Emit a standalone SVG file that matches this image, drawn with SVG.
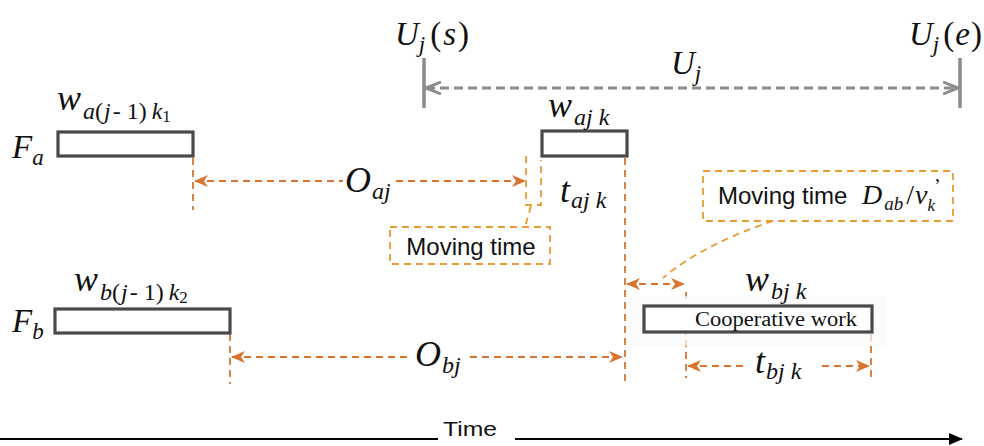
<svg xmlns="http://www.w3.org/2000/svg" width="984" height="446" viewBox="0 0 984 446">
<defs>
<style>
.m{font-family:"Liberation Serif","DejaVu Serif",serif;font-style:italic;fill:#111}
.r{font-family:"Liberation Serif","DejaVu Serif",serif;font-style:normal;fill:#111}
.s{font-family:"Liberation Sans",Arial,sans-serif;fill:#111}
.bar{fill:#fff;stroke:#4a4a4a;stroke-width:3.2}
.od{fill:none;stroke:#d9742e;stroke-width:1.8;stroke-dasharray:7 5}
.ob{fill:none;stroke:#eb9a34;stroke-width:1.8;stroke-dasharray:7 5}
.gd{fill:none;stroke:#8c8c8c;stroke-width:3;stroke-dasharray:9 5}
.gl{stroke:#8c8c8c;stroke-width:3.5}
</style>
<filter id="soft" x="-5%" y="-20%" width="110%" height="140%"><feGaussianBlur stdDeviation="0.7"/></filter>
<marker id="oa" viewBox="0 0 14 12" refX="13" refY="6" markerWidth="14" markerHeight="12" markerUnits="userSpaceOnUse" orient="auto-start-reverse">
<path d="M0,0 L14,6 L0,12 L4,6 Z" fill="#d9742e"/>
</marker>
<marker id="ga" viewBox="0 0 16 14" refX="15" refY="7" markerWidth="16" markerHeight="14" markerUnits="userSpaceOnUse" orient="auto-start-reverse">
<path d="M0,1 L15,7 L0,13" fill="none" stroke="#8c8c8c" stroke-width="3"/>
</marker>
<marker id="ka" viewBox="0 0 14 12" refX="13" refY="6" markerWidth="14" markerHeight="12" markerUnits="userSpaceOnUse" orient="auto">
<path d="M0,0 L14,6 L0,12 Z" fill="#000"/>
</marker>
</defs>
<rect width="984" height="446" fill="#fff"/>

<g id="connectors">
<line class="gl" x1="424" y1="58" x2="424" y2="108"/>
<line class="gl" x1="960" y1="58" x2="960" y2="108"/>
<line class="gd" x1="426" y1="88" x2="958" y2="88" marker-start="url(#ga)" marker-end="url(#ga)"/>
<line class="od" x1="193" y1="158" x2="193" y2="210"/>
<line class="od" x1="195" y1="181" x2="343" y2="181" marker-start="url(#oa)"/>
<line class="od" x1="396" y1="181" x2="525" y2="181" marker-end="url(#oa)"/>
<path class="ob" d="M526,156 L526,205 L541,205 L541,160"/>
<path class="ob" d="M531,206 L525,227"/>
<line class="od" x1="625" y1="158" x2="625" y2="382"/>
<line class="od" x1="627" y1="284" x2="684" y2="284" marker-start="url(#oa)" marker-end="url(#oa)"/>
<path class="ob" d="M773,221 C730,235 690,255 663,278"/>
<line class="od" x1="686" y1="292" x2="686" y2="378"/>
<line class="od" x1="871" y1="322" x2="871" y2="380"/>
<line class="od" x1="688" y1="366" x2="748" y2="366" marker-start="url(#oa)"/>
<line class="od" x1="822" y1="366" x2="869" y2="366" marker-end="url(#oa)"/>
<line class="od" x1="230" y1="334" x2="230" y2="384"/>
<line class="od" x1="232" y1="357" x2="410" y2="357" marker-start="url(#oa)"/>
<line class="od" x1="470" y1="357" x2="622" y2="357" marker-end="url(#oa)"/>
<line x1="0" y1="439" x2="438" y2="439" stroke="#000" stroke-width="1.8"/>
<line x1="515" y1="439" x2="962" y2="439" stroke="#000" stroke-width="1.8" marker-end="url(#ka)"/>
</g>

<g id="labels-top">
<text class="m" x="395" y="45" font-size="33">U<tspan font-size="23" dy="7">j</tspan><tspan font-style="normal" font-size="33" dy="-7" dx="5">(</tspan><tspan dx="2">s</tspan><tspan font-style="normal" dx="2">)</tspan></text>
<text class="m" x="909" y="45" font-size="33">U<tspan font-size="23" dy="7">j</tspan><tspan font-style="normal" dy="-7" dx="4">(</tspan><tspan dx="1">e</tspan><tspan font-style="normal" dx="1">)</tspan></text>
<text class="m" x="671" y="74" font-size="33">U<tspan font-size="23" dy="7">j</tspan></text>
</g>

<g id="Fa">
<rect class="bar" x="58" y="132" width="135" height="24" filter="url(#soft)"/>
<text class="m" x="12" y="158" font-size="33">F<tspan font-size="23" dy="7">a</tspan></text>
<text class="m" x="57" y="110" font-size="36">w<tspan font-size="24" dy="9" dx="2">a</tspan><tspan font-size="24" font-style="normal">(</tspan><tspan font-size="24" dx="1">j</tspan><tspan font-size="24" font-style="normal" dx="2">-  1)</tspan><tspan font-size="24" dx="5">k</tspan><tspan font-size="17" dy="3" font-style="normal">1</tspan></text>
</g>

<g id="waj">
<rect class="bar" x="542" y="131" width="85" height="25" filter="url(#soft)"/>
<text class="m" x="548" y="117" font-size="36">w<tspan font-size="24" dy="8" dx="2">aj</tspan><tspan font-size="24" dx="6">k</tspan></text>
</g>

<g id="Fb">
<rect class="bar" x="55" y="309" width="175" height="24" filter="url(#soft)"/>
<text class="m" x="12" y="332" font-size="33">F<tspan font-size="23" dy="7">b</tspan></text>
<text class="m" x="74" y="291" font-size="36">w<tspan font-size="24" dy="9" dx="2">b</tspan><tspan font-size="24" font-style="normal">(</tspan><tspan font-size="24" dx="1">j</tspan><tspan font-size="24" font-style="normal" dx="2">-  1)</tspan><tspan font-size="24" dx="5">k</tspan><tspan font-size="17" dy="3" font-style="normal">2</tspan></text>
</g>

<g id="wbj">
<rect x="630" y="296" width="255" height="50" fill="#f9f9f9" opacity="0.7"/>
<rect class="bar" x="644" y="306" width="228" height="26" fill="#fbfbfb" filter="url(#soft)"/>
<text class="r" x="776" y="326" font-size="20" text-anchor="middle" textLength="162" lengthAdjust="spacingAndGlyphs">Cooperative work</text>
<text class="m" x="745" y="291" font-size="36">w<tspan font-size="24" dy="8" dx="2">bj</tspan><tspan font-size="24" dx="6">k</tspan></text>
</g>

<g id="moving1">
<rect class="ob" x="390" y="227" width="160" height="37"/>
<text class="s" x="471" y="255" font-size="24" text-anchor="middle">Moving time</text>
</g>

<g id="moving2">
<rect class="ob" x="703" y="171" width="250" height="50"/>
<text class="s" x="718" y="204" font-size="24">Moving time</text>
<text class="m" x="862" y="204" font-size="28">D<tspan font-size="19" dy="6" dx="2">ab</tspan><tspan font-style="normal" font-size="28" dy="-6" dx="3">/</tspan><tspan font-size="28" dx="1">v</tspan><tspan font-size="17" dy="7">k</tspan></text>
<text class="r" x="934" y="193" font-size="20">’</text>
</g>

<g id="measure-labels">
<text class="m" x="345" y="192" font-size="36">O<tspan font-size="24" dy="7" dx="1">aj</tspan></text>
<text class="m" x="560" y="202" font-size="36">t<tspan font-size="24" dy="6" dx="1">aj</tspan><tspan font-size="24" dx="6">k</tspan></text>
<text class="m" x="415" y="366" font-size="36">O<tspan font-size="24" dy="7" dx="1">bj</tspan></text>
<text class="m" x="755" y="373" font-size="36">t<tspan font-size="24" dy="6" dx="1">bj</tspan><tspan font-size="24" dx="6">k</tspan></text>
</g>

<g id="time">
<text class="s" x="443" y="436" font-size="21" textLength="54" lengthAdjust="spacingAndGlyphs">Time</text>
</g>
</svg>
